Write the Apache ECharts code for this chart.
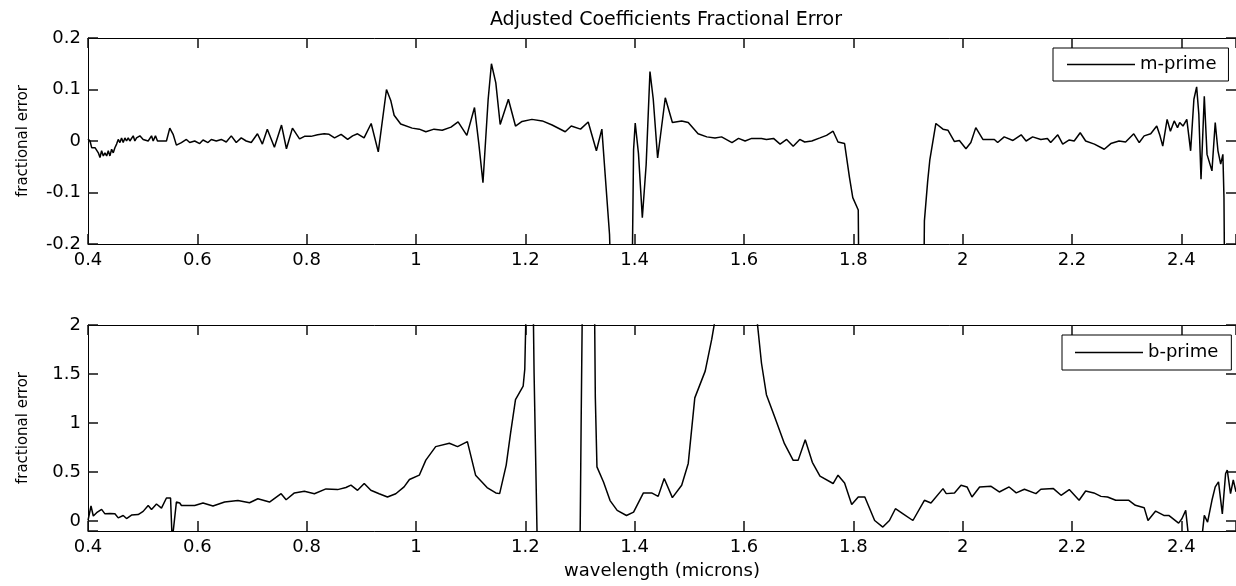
<!DOCTYPE html>
<html>
<head>
<meta charset="utf-8">
<title>Adjusted Coefficients Fractional Error</title>
<script src="https://cdn.jsdelivr.net/npm/echarts@6.0.0/dist/echarts.min.js"></script>
<style>
  html, body { margin: 0; padding: 0; background: #fff; }
  #chart { width: 1236px; height: 586px; }
</style>
</head>
<body>
<div id="chart"></div>
<script>
// m-prime fractional error (top panel)
const mWave = [
  0.400, 0.4037, 0.4067, 0.4097, 0.4128, 0.4189, 0.4219, 0.4249, 0.4280, 0.4310,
  0.4341, 0.4371, 0.4401, 0.4432, 0.4462, 0.4492, 0.4523, 0.4553, 0.4584, 0.4614,
  0.4644, 0.4675, 0.4705, 0.4736, 0.4766, 0.4827, 0.4857, 0.4888, 0.4949, 0.5009,
  0.5040, 0.5101, 0.5162, 0.5192, 0.5234, 0.5271, 0.5435, 0.5496, 0.5557, 0.5617,
  0.5709, 0.5800, 0.5861, 0.5952, 0.6043, 0.6104, 0.6195, 0.6256, 0.6347, 0.6438,
  0.6529, 0.6621, 0.6712, 0.6803, 0.6894, 0.6986, 0.710, 0.719, 0.728, 0.741,
  0.754, 0.763, 0.774, 0.787, 0.796, 0.808, 0.820, 0.832, 0.841, 0.851,
  0.863, 0.875, 0.884, 0.893, 0.905, 0.918, 0.931, 0.946, 0.954, 0.960,
  0.972, 0.993, 1.006, 1.018, 1.033, 1.048, 1.064, 1.077, 1.093, 1.107,
  1.115, 1.1225, 1.132, 1.138, 1.146, 1.154, 1.169, 1.182, 1.194, 1.212,
  1.231, 1.249, 1.273, 1.284, 1.301, 1.315, 1.330, 1.340, 1.346, 1.354,
  1.360, 1.375, 1.390, 1.395, 1.398, 1.401, 1.407, 1.414, 1.421, 1.428,
  1.434, 1.442, 1.456, 1.469, 1.486, 1.498, 1.516, 1.532, 1.547, 1.559,
  1.578, 1.590, 1.602, 1.614, 1.632, 1.641, 1.654, 1.666, 1.678, 1.690,
  1.702, 1.711, 1.724, 1.739, 1.751, 1.763, 1.772, 1.784, 1.793, 1.799,
  1.809, 1.811, 1.870, 1.928, 1.930, 1.936, 1.940, 1.951, 1.964, 1.973,
  1.985, 1.994, 2.006, 2.015, 2.024, 2.037, 2.058, 2.064, 2.076, 2.092,
  2.107, 2.116, 2.128, 2.143, 2.155, 2.161, 2.174, 2.183, 2.195, 2.204,
  2.215, 2.225, 2.241, 2.259, 2.271, 2.286, 2.298, 2.313, 2.323, 2.332,
  2.344, 2.355, 2.361, 2.366, 2.374, 2.380, 2.387, 2.393, 2.397, 2.403,
  2.410, 2.417, 2.423, 2.428, 2.432, 2.436, 2.442, 2.447, 2.456, 2.462,
  2.467, 2.472, 2.476, 2.478, 2.480
];
const mErr = [
  0.004, 0.000, -0.013, -0.016, -0.013, -0.023, -0.032, -0.019, -0.029, -0.023,
  -0.029, -0.019, -0.029, -0.016, -0.023, -0.013, -0.006, 0.003, -0.003, 0.006,
  -0.003, 0.006, 0.000, 0.006, 0.000, 0.010, 0.000, 0.006, 0.010, 0.003,
  0.006, 0.000, 0.010, 0.000, 0.010, 0.000, 0.000, 0.025, 0.013, -0.008,
  -0.003, 0.003, -0.003, 0.000, -0.005, 0.002, -0.003, 0.003, 0.000, 0.003,
  -0.002, 0.010, -0.003, 0.006, 0.000, -0.003, 0.014, -0.006, 0.023, -0.012,
  0.031, -0.015, 0.025, 0.004, 0.009, 0.009, 0.012, 0.014, 0.013, 0.006,
  0.013, 0.003, 0.010, 0.014, 0.006, 0.034, -0.021, 0.100, 0.078, 0.050,
  0.033, 0.025, 0.023, 0.018, 0.023, 0.021, 0.027, 0.037, 0.011, 0.065,
  -0.006, -0.081, 0.081, 0.150, 0.113, 0.032, 0.081, 0.029, 0.038, 0.042,
  0.039, 0.031, 0.018, 0.029, 0.023, 0.037, -0.019, 0.023, -0.065, -0.181,
  -0.40, -0.90, -0.50, -0.30, -0.017, 0.035, -0.025, -0.149, -0.046, 0.135,
  0.081, -0.033, 0.084, 0.036, 0.039, 0.036, 0.014, 0.008, 0.006, 0.008,
  -0.003, 0.005, 0.000, 0.005, 0.005, 0.003, 0.005, -0.006, 0.003, -0.010,
  0.003, -0.002, 0.000, 0.006, 0.011, 0.019, -0.002, -0.005, -0.071, -0.110,
  -0.134, -0.40, -0.80, -0.40, -0.155, -0.078, -0.036, 0.034, 0.023, 0.021,
  -0.001, 0.001, -0.015, -0.003, 0.026, 0.003, 0.003, -0.003, 0.008, 0.001,
  0.012, 0.000, 0.008, 0.003, 0.005, -0.003, 0.012, -0.006, 0.002, 0.000,
  0.016, 0.000, -0.006, -0.016, -0.005, 0.000, -0.002, 0.014, -0.003, 0.010,
  0.014, 0.029, 0.010, -0.010, 0.042, 0.019, 0.039, 0.026, 0.036, 0.029,
  0.042, -0.019, 0.081, 0.105, 0.052, -0.074, 0.087, -0.026, -0.058, 0.036,
  -0.019, -0.045, -0.026, -0.110, -0.40
];

// b-prime fractional error (bottom panel)
const bWave = [
  0.400, 0.4006, 0.4055, 0.4097, 0.4158, 0.4249, 0.4310, 0.4401, 0.4492, 0.4553,
  0.4644, 0.4705, 0.4796, 0.4918, 0.5009, 0.5101, 0.5162, 0.5253, 0.5344, 0.5435,
  0.5510, 0.5540, 0.5570, 0.5617, 0.5678, 0.5709, 0.5952, 0.6104, 0.6286, 0.6499,
  0.6742, 0.6955, 0.7107, 0.7320, 0.7533, 0.7624, 0.7776, 0.7958, 0.8141, 0.8353,
  0.8566, 0.8718, 0.8810, 0.8931, 0.9053, 0.9174, 0.9326, 0.9478, 0.9630, 0.9782,
  0.988, 1.006, 1.018, 1.036, 1.061, 1.076, 1.094, 1.109, 1.130, 1.146,
  1.153, 1.165, 1.173, 1.182, 1.196, 1.199, 1.203, 1.208, 1.214, 1.216,
  1.222, 1.260, 1.300, 1.302, 1.305, 1.315, 1.326, 1.328, 1.331, 1.343,
  1.355, 1.368, 1.385, 1.398, 1.416, 1.431, 1.443, 1.454, 1.469, 1.486,
  1.498, 1.510, 1.529, 1.541, 1.550, 1.585, 1.622, 1.632, 1.641, 1.656,
  1.674, 1.690, 1.699, 1.712, 1.725, 1.739, 1.763, 1.772, 1.784, 1.797,
  1.809, 1.821, 1.839, 1.854, 1.866, 1.877, 1.891, 1.909, 1.930, 1.942,
  1.964, 1.970, 1.985, 1.997, 2.008, 2.017, 2.031, 2.052, 2.067, 2.085,
  2.098, 2.113, 2.134, 2.143, 2.166, 2.180, 2.195, 2.213, 2.225, 2.240,
  2.253, 2.265, 2.280, 2.304, 2.316, 2.332, 2.339, 2.353, 2.368, 2.377,
  2.395, 2.401, 2.408, 2.414, 2.426, 2.437, 2.442, 2.448, 2.456, 2.462,
  2.468, 2.475, 2.481, 2.484, 2.490, 2.495, 2.500
];
const bErr = [
  0.007, 0.025, 0.155, 0.053, 0.087, 0.120, 0.075, 0.079, 0.075, 0.034,
  0.058, 0.027, 0.062, 0.068, 0.100, 0.161, 0.120, 0.175, 0.134, 0.236,
  0.236, -0.20, -0.20, 0.195, 0.185, 0.160, 0.160, 0.185, 0.154, 0.195,
  0.212, 0.188, 0.229, 0.195, 0.280, 0.219, 0.288, 0.305, 0.280, 0.329,
  0.322, 0.343, 0.367, 0.315, 0.384, 0.315, 0.280, 0.246, 0.280, 0.350,
  0.425, 0.469, 0.623, 0.760, 0.794, 0.760, 0.811, 0.469, 0.343, 0.288,
  0.281, 0.572, 0.897, 1.240, 1.376, 1.550, 2.6, 3.0, 2.4, 1.51,
  -0.3, -0.6, -0.3, 0.95, 2.6, 3.0, 2.6, 1.27, 0.554, 0.400,
  0.210, 0.110, 0.058, 0.092, 0.288, 0.288, 0.253, 0.435, 0.240, 0.366,
  0.589, 1.257, 1.530, 1.855, 2.15, 2.6, 2.15, 1.610, 1.290, 1.064,
  0.790, 0.620, 0.620, 0.830, 0.600, 0.459, 0.384, 0.469, 0.390, 0.171,
  0.247, 0.247, 0.007, -0.060, 0.007, 0.127, 0.075, 0.007, 0.213, 0.185,
  0.332, 0.281, 0.288, 0.366, 0.349, 0.247, 0.349, 0.356, 0.298, 0.349,
  0.288, 0.325, 0.281, 0.325, 0.332, 0.264, 0.322, 0.213, 0.308, 0.288,
  0.253, 0.247, 0.213, 0.213, 0.162, 0.138, 0.007, 0.103, 0.059, 0.059,
  -0.020, 0.025, 0.110, -0.20, -0.30, -0.20, 0.060, -0.010, 0.213, 0.350,
  0.400, 0.075, 0.486, 0.520, 0.280, 0.420, 0.300
];

// axis ranges and tick labels
const xRange = [0.4, 2.5];   // right edge falls just past the picture
const xStep = 0.2;
const xTicks = [0.4, 0.6, 0.8, 1, 1.2, 1.4, 1.6, 1.8, 2, 2.2, 2.4];
const mRange = [-0.2, 0.2];
const mStep = 0.1;
const mTicks = [-0.2, -0.1, 0, 0.1, 0.2];
const bRange = [-0.1, 2];
const bTicks = [0, 0.5, 1, 1.5, 2];

const chart = echarts.init(document.getElementById('chart'));

const font = 'DejaVu Sans';
const black = '#000';

// thin 1px ticks vanish, so draw them slightly heavier
const tickStyle = { color: '#111', width: 1.5 };

const makeX = (grid, pos, labels, extra) => Object.assign({
  type: 'value', gridIndex: grid, position: pos,
  min: xRange[0], max: xRange[1], interval: xStep,
  axisLine: { show: true, onZero: false, lineStyle: { color: black, width: 1 } },
  axisTick: { show: true, inside: true, length: 10, lineStyle: tickStyle },
  axisLabel: {
    show: labels, customValues: xTicks, color: black,
    fontSize: 18, fontFamily: font, margin: 7
  },
  splitLine: { show: false }
}, extra || {});

const makeY = (grid, pos, labels, range, step, ticks, extra) => Object.assign({
  type: 'value', gridIndex: grid, position: pos,
  min: range[0], max: range[1], interval: step,
  axisLine: { show: true, onZero: false, lineStyle: { color: black, width: 1 } },
  axisTick: { show: true, inside: true, length: 10, lineStyle: tickStyle },
  axisLabel: {
    show: labels, customValues: ticks, color: black,
    fontSize: 18, fontFamily: font, margin: 7
  },
  splitLine: { show: false }
}, extra || {});

const yName = {
  name: 'fractional error', nameLocation: 'middle', nameGap: 57,
  nameTextStyle: { color: black, fontSize: 15, fontFamily: font }
};

const legendBase = {
  orient: 'horizontal', icon: 'rect', itemWidth: 68, itemHeight: 1.5,
  borderColor: black, borderWidth: 1, borderRadius: 0, backgroundColor: '#fff',
  textStyle: { color: black, fontSize: 18, fontFamily: font, lineHeight: 19 },
  itemStyle: { color: black },
  selectedMode: false
};

const option = {
  animation: false,
  backgroundColor: '#fff',
  textStyle: { fontFamily: font },
  title: {
    text: 'Adjusted Coefficients Fractional Error',
    left: 661, top: 6, textAlign: 'center',
    textStyle: { color: black, fontSize: 19, fontWeight: 'normal', fontFamily: font }
  },
  legend: [
    Object.assign({ data: ['m-prime'], left: 1053, top: 48, padding: [7, 12, 7, 14] }, legendBase),
    Object.assign({ data: ['b-prime'], left: 1062, top: 335, padding: [8, 13, 8, 13] }, legendBase)
  ],
  grid: [
    { left: 88, top: 38, width: 1151, height: 206 },
    { left: 88, top: 325, width: 1151, height: 206 }
  ],
  xAxis: [
    makeX(0, 'bottom', true),
    makeX(0, 'top', false),
    makeX(1, 'bottom', true, {
      name: 'wavelength (microns)', nameLocation: 'middle', nameGap: 31,
      nameTextStyle: { color: black, fontSize: 18, fontFamily: font }
    }),
    makeX(1, 'top', false)
  ],
  yAxis: [
    makeY(0, 'left', true, mRange, mStep, mTicks, yName),
    makeY(0, 'right', false, mRange, mStep, mTicks),
    // -0.1 is not a multiple of 0.5, so leave the bottom panel on auto ticks
    makeY(1, 'left', true, bRange, undefined, bTicks, yName),
    makeY(1, 'right', false, bRange, undefined, bTicks)
  ],
  series: [
    {
      name: 'm-prime', type: 'line', xAxisIndex: 0, yAxisIndex: 0,
      symbol: 'none', clip: true,
      lineStyle: { color: black, width: 1.5 }, itemStyle: { color: black },
      data: mWave.map((w, i) => [w, mErr[i]])
    },
    {
      name: 'b-prime', type: 'line', xAxisIndex: 2, yAxisIndex: 2,
      symbol: 'none', clip: true,
      lineStyle: { color: black, width: 1.5 }, itemStyle: { color: black },
      data: bWave.map((w, i) => [w, bErr[i]])
    }
  ]
};

chart.setOption(option);
</script>
</body>
</html>
